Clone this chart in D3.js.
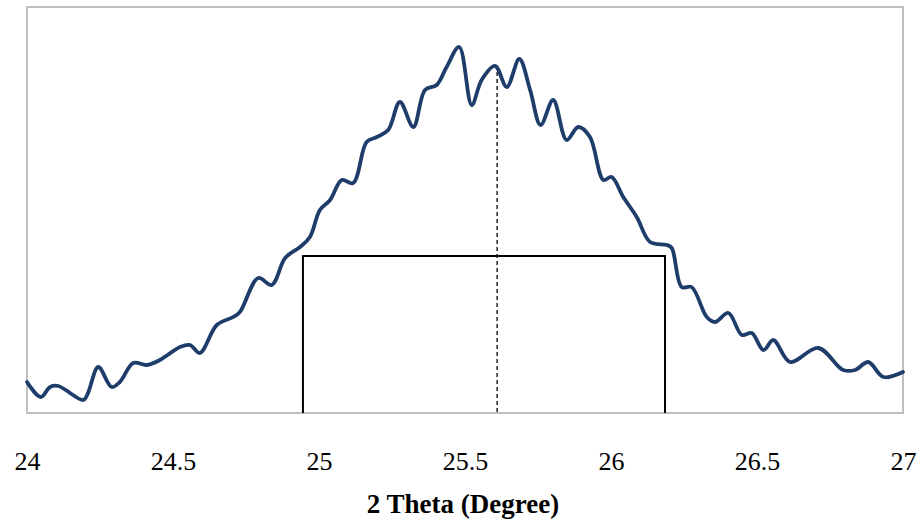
<!DOCTYPE html>
<html>
<head>
<meta charset="utf-8">
<script src="https://cdnjs.cloudflare.com/ajax/libs/d3/7.8.5/d3.min.js"></script>
<style>
body{margin:0;background:#fff;}
svg{display:block;}
</style>
</head>
<body>
<svg></svg>
<script>
// 2 theta positions (degree)
var twoTheta = [24.00,24.047,24.079,24.107,24.193,24.209,24.244,24.29,24.318,24.364,
    24.41,24.455,24.524,24.558,24.592,24.65,24.706,24.729,24.792,24.838,
    24.884,24.935,24.969,25.003,25.038,25.078,25.117,25.163,25.198,25.237,
    25.277,25.323,25.363,25.403,25.437,25.48,25.523,25.557,25.603,25.643,
    25.686,25.723,25.759,25.802,25.848,25.888,25.928,25.974,26.002,26.042,
    26.088,26.134,26.191,26.208,26.242,26.276,26.328,26.356,26.402,26.448,
    26.482,26.522,26.556,26.613,26.71,26.795,26.836,26.881,26.933,27.0]
// intensity (arbitrary units)
var intensity = [31,16,26,27,13,20,46,26,31,50,
    48,53,66,68,60,88,96,101,135,128,
    155,166,176,203,213,233,230,271,276,283,
    311,286,323,328,346,366,308,333,347,326,
    354,323,288,313,273,286,276,233,236,216,
    196,171,168,165,126,126,96,91,100,78,
    80,63,73,51,65,43,43,51,36,41]

var xTicks = [24,24.5,25,25.5,26,26.5,27]
var xDomain = [24,27]
var yDomain = [0,406]

// FWHM box and peak position
var fwhmLeft = 24.945
var fwhmRight = 26.185
var halfMax = 157
var peakPos = 25.61
var peakTop = 341

var screen = {width:923,height:526}
var margins = {left:27,right:20,top:7,bottom:113}

var graph = {
    width:screen.width-margins.left-margins.right,
    height:screen.height-margins.top-margins.bottom
}

var serif = "'Liberation Serif','Times New Roman',serif"

var svg = d3.select("svg")
    .attr("width",screen.width)
    .attr("height",screen.height)

var xScale = d3.scaleLinear()
    .domain(xDomain)
    .range([0,graph.width])
var yScale = d3.scaleLinear()
    .domain(yDomain)
    .range([graph.height,0])

var target = svg.append("g")
    .attr("transform","translate("+margins.left+","+margins.top+")")

// plot area frame
target.append("rect")
    .attr("x",xScale(xDomain[0]))
    .attr("y",yScale(yDomain[1]))
    .attr("width",xScale(xDomain[1])-xScale(xDomain[0]))
    .attr("height",yScale(yDomain[0])-yScale(yDomain[1]))
    .attr("fill","none")
    .attr("stroke","#bfbfbf")
    .attr("stroke-width",2)

// FWHM box
target.append("path")
    .attr("d","M"+xScale(fwhmLeft)+","+yScale(0)+
        "V"+yScale(halfMax)+"H"+xScale(fwhmRight)+"V"+yScale(0))
    .attr("fill","none")
    .attr("stroke","#000")
    .attr("stroke-width",2)

// peak dashed line
target.append("line")
    .attr("x1",xScale(peakPos))
    .attr("x2",xScale(peakPos))
    .attr("y1",yScale(peakTop))
    .attr("y2",yScale(0))
    .attr("stroke","#000")
    .attr("stroke-width",1.3)
    .attr("stroke-dasharray","4,3")

var points = twoTheta.map(function(t,i){return {x:t,y:intensity[i]}})

var line = d3.line()
    .x(function(d){return xScale(d.x)})
    .y(function(d){return yScale(d.y)})
    .curve(d3.curveCatmullRom.alpha(0.5))

target.append("path")
    .datum(points)
    .attr("d",line)
    .attr("fill","none")
    .attr("stroke","#1f3d6b")
    .attr("stroke-width",3.8)
    .attr("stroke-linejoin","round")
    .attr("stroke-linecap","round")

// x axis (labels only)
var xAxis = d3.axisBottom(xScale)
    .tickValues(xTicks)
    .tickSize(0)
    .tickPadding(0)
    .tickFormat(function(d){return String(d)})

var ax = target.append("g")
    .attr("transform","translate(0,"+graph.height+")")
    .call(xAxis)
    .attr("font-family",serif)
    .attr("font-size",26)
ax.select(".domain").remove()
ax.selectAll(".tick text")
    .attr("dy",null)
    .attr("y",57)
    .attr("fill","#000")

// axis title
svg.append("text")
    .text("2 Theta (Degree)")
    .attr("x",463)
    .attr("y",513)
    .attr("text-anchor","middle")
    .attr("font-family",serif)
    .attr("font-weight","bold")
    .attr("font-size",27)
    .attr("fill","#000")
</script>
</body>
</html>
